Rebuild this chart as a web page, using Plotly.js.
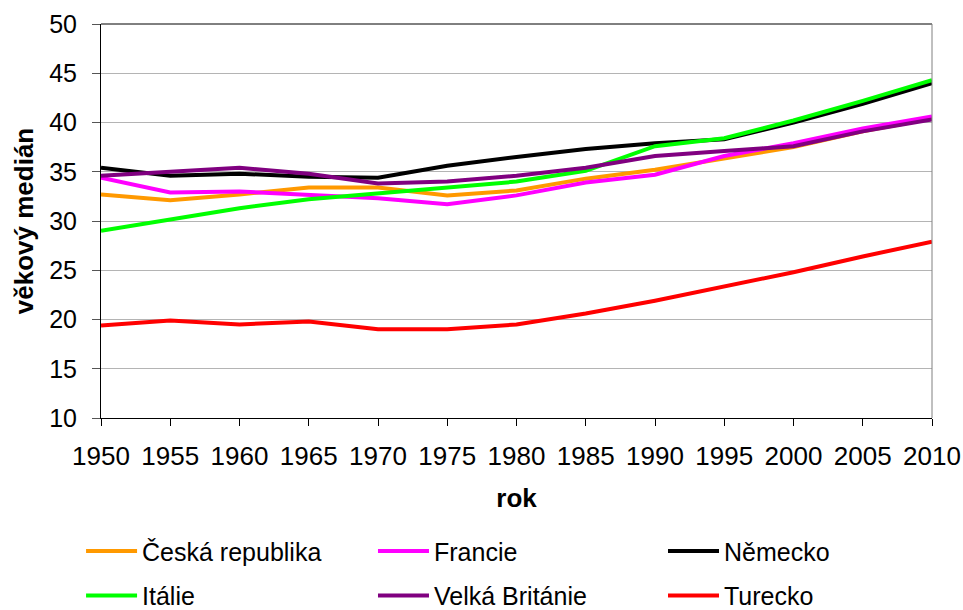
<!DOCTYPE html>
<html>
<head>
<meta charset="utf-8">
<script src="https://cdn.plot.ly/plotly-3.0.1.min.js"></script>
<style>html,body{margin:0;padding:0;background:#fff;}#chart{width:963px;height:610px;}</style>
</head>
<body>
<div id="chart"></div>
<script>
var years = [1950,1955,1960,1965,1970,1975,1980,1985,1990,1995,2000,2005,2010];
var seriesNames = ["Česká republika","Francie","Německo","Itálie","Velká Británie","Turecko"];
var czech   = [32.7,32.1,32.7,33.4,33.4,32.6,33.1,34.3,35.2,36.3,37.5,39.1,40.4];
var france  = [34.4,32.9,33.0,32.7,32.3,31.7,32.6,33.9,34.7,36.6,37.9,39.4,40.6];
var germany = [35.4,34.6,34.8,34.5,34.4,35.6,36.5,37.3,37.9,38.3,40.0,41.9,44.0];
var italy   = [29.0,30.1,31.3,32.2,32.8,33.5,34.0,35.1,37.6,38.4,40.2,42.2,44.3];
var uk      = [34.6,35.0,35.4,34.8,33.8,34.0,34.6,35.4,36.6,37.1,37.6,39.1,40.3];
var turkey  = [19.4,19.9,19.5,19.8,19.0,19.0,19.5,20.6,21.9,23.3,24.8,26.4,27.9];
var yTicks = [10,15,20,25,30,35,40,45,50];
var xTitle = "rok";
var yTitle = "věkový medián";

var seriesValues = [czech, france, germany, italy, uk, turkey];
var colors = ["#FF9900","#FF00FF","#000000","#00FF00","#800080","#FF0000"];
var legendOf = ["legend","legend2","legend3","legend","legend2","legend3"];

var data = seriesValues.map(function(v,i){
  return {x: years, y: v, name: seriesNames[i], type: "scatter", mode: "lines",
          legend: legendOf[i], legendgroup: "g" + i,
          line: {color: colors[i], width: 4}};
});

var font = "Liberation Sans, Arial, sans-serif";
function leg(x){
  return {orientation: "v", x: x, xanchor: "left", y: -0.28, yanchor: "top",
          font: {family: font, size: 25, color: "#000"},
          traceorder: "grouped", tracegroupgap: 9, itemwidth: 51,
          bgcolor: "rgba(0,0,0,0)", borderwidth: 0};
}
var layout = {
  width: 963, height: 610,
  margin: {l: 101, r: 31, t: 24, b: 192, autoexpand: false},
  paper_bgcolor: "#fff", plot_bgcolor: "#fff",
  font: {family: font, size: 25, color: "#000"},
  showlegend: true,
  xaxis: {
    range: [1950, 2010], tickvals: years, ticktext: years.map(String),
    showgrid: false, zeroline: false,
    showline: true, linecolor: "#000", linewidth: 1, mirror: false,
    ticks: "outside", ticklen: 7, tickcolor: "#000", tickwidth: 1,
    ticklabelstandoff: 8,
    tickfont: {family: font, size: 26, color: "#000"},
    title: {text: xTitle, font: {family: font, size: 26, color: "#000", weight: "bold"}, standoff: 18}
  },
  yaxis: {
    range: [10, 50], tickvals: yTicks, ticktext: yTicks.map(String),
    showgrid: true, gridcolor: "#b4b4b4", gridwidth: 1, zeroline: false,
    showline: true, linecolor: "#000", linewidth: 1,
    ticks: "outside", ticklen: 8, tickcolor: "#555", tickwidth: 1,
    ticklabelstandoff: 10,
    tickfont: {family: font, size: 25, color: "#000"},
    title: {text: yTitle, font: {family: font, size: 26, color: "#000", weight: "bold"}, standoff: 8}
  },
  shapes: [
    {type: "line", xref: "paper", yref: "paper", x0: 0, x1: 1, y0: 1, y1: 1, line: {color: "#000", width: 1}},
    {type: "line", xref: "paper", yref: "paper", x0: 1, x1: 1, y0: 0, y1: 1, line: {color: "#808080", width: 1}}
  ],
  legend: leg(-0.024),
  legend2: leg(0.3273),
  legend3: leg(0.6763)
};

Plotly.newPlot("chart", data, layout, {displayModeBar: false, staticPlot: true});
</script>
</body>
</html>
